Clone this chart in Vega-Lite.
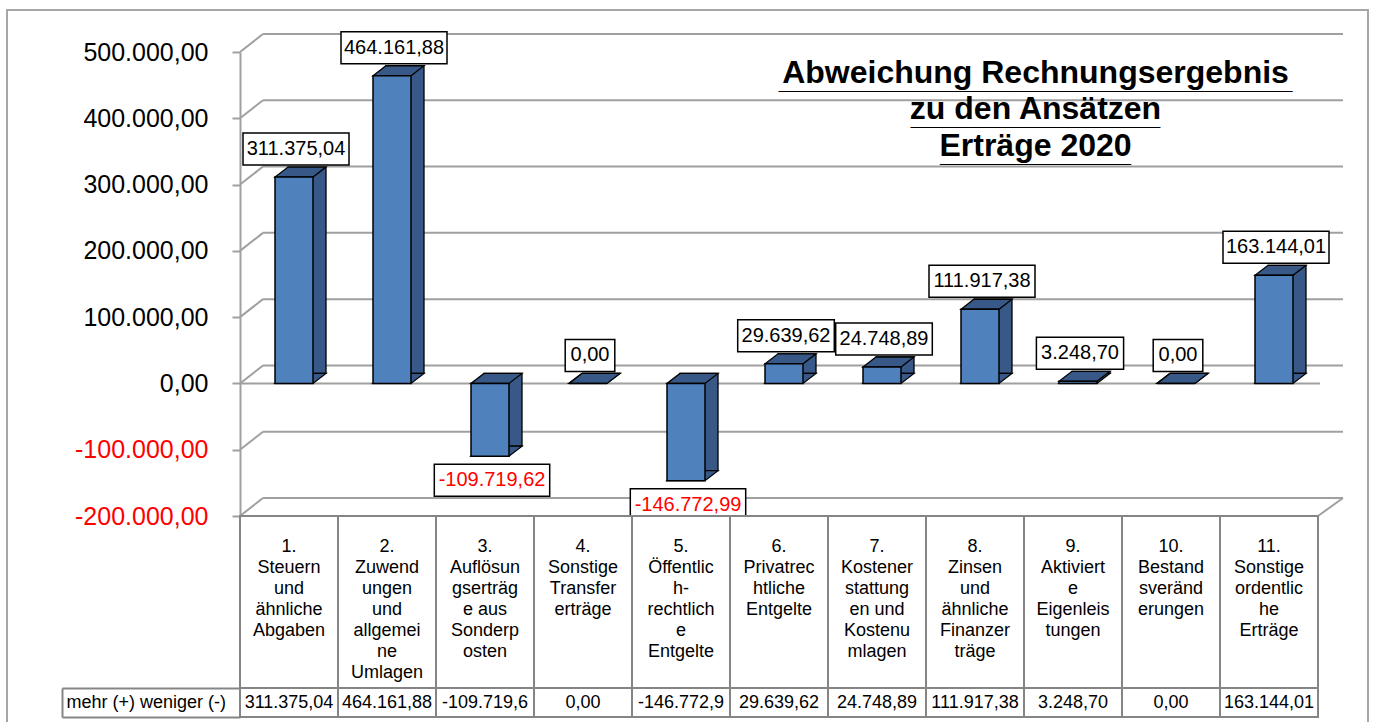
{
  "$schema": "https://vega.github.io/schema/vega-lite/v6.json",
  "width": 1361,
  "height": 716,
  "padding": {"left": 7, "top": 10, "right": 5, "bottom": 0},
  "autosize": {"type": "none"},
  "background": "white",
  "config": {
    "view": {"stroke": "#a6a6a6", "strokeWidth": 2},
    "font": "Liberation Sans",
    "locale": {"number": {"decimal": ",", "thousands": ".", "grouping": [3], "currency": ["", " €"], "minus": "-"}}
  },
  "title": {
    "text": ["Abweichung Rechnungsergebnis", "zu den Ansätzen", "Erträge 2020"],
    "subtitle": ["___________________________________", "_________________", "_____________"],
    "font": "Liberation Sans",
    "fontSize": 32,
    "fontWeight": "bold",
    "color": "black",
    "subtitleFont": "Liberation Sans",
    "subtitleFontSize": 26.4,
    "subtitleFontWeight": "bold",
    "subtitleColor": "black",
    "subtitleLineHeight": 36.5,
    "subtitlePadding": -95,
    "anchor": "middle",
    "frame": "group",
    "orient": "top",
    "baseline": "top",
    "offset": 0,
    "dx": 348,
    "dy": 167,
    "lineHeight": 36.5
  },
  "datasets": {
    "werte": [
      {"nr": "1.", "label": "1.|Steuern|und|ähnliche|Abgaben", "value": 311375.04},
      {"nr": "2.", "label": "2.|Zuwend|ungen|und|allgemei|ne|Umlagen", "value": 464161.88},
      {"nr": "3.", "label": "3.|Auflösun|gserträg|e aus|Sonderp|osten", "value": -109719.62},
      {"nr": "4.", "label": "4.|Sonstige|Transfer|erträge", "value": 0},
      {"nr": "5.", "label": "5.|Öffentlic|h-|rechtlich|e|Entgelte", "value": -146772.99},
      {"nr": "6.", "label": "6.|Privatrec|htliche|Entgelte", "value": 29639.62},
      {"nr": "7.", "label": "7.|Kostener|stattung|en und|Kostenu|mlagen", "value": 24748.89},
      {"nr": "8.", "label": "8.|Zinsen|und|ähnliche|Finanzer|träge", "value": 111917.38},
      {"nr": "9.", "label": "9.|Aktiviert|e|Eigenleis|tungen", "value": 3248.70},
      {"nr": "10.", "label": "10.|Bestand|sveränd|erungen", "value": 0},
      {"nr": "11.", "label": "11.|Sonstige|ordentlic|he|Erträge", "value": 163144.01}
    ],
    "gitter": [
      {"t": -200000}, {"t": -100000}, {"t": 0}, {"t": 100000},
      {"t": 200000}, {"t": 300000}, {"t": 400000}, {"t": 500000}
    ]
  },
  "layer": [
    {
      "layer": [
        {
          "data": {"name": "gitter"},
          "mark": {"type": "rule", "color": "#a0a0a0", "strokeWidth": 2, "xOffset": -26, "x2Offset": 74, "yOffset": -18},
          "encoding": {
            "x": {"datum": "1.", "type": "nominal", "scale": {"domain": ["1.", "2.", "3.", "4.", "5.", "6.", "7.", "8.", "9.", "10.", "11."], "range": [233, 1311], "paddingInner": 0, "paddingOuter": 0}, "axis": null},
            "x2": {"datum": "11."},
            "y": {"field": "t", "type": "quantitative",
              "scale": {"domain": [-200000, 500000], "range": [506, 42], "nice": false, "zero": false},
              "axis": {
                "orient": "left", "offset": -233, "title": null, "grid": false,
                "values": [-200000, -100000, 0, 100000, 200000, 300000, 400000, 500000],
                "format": ",.2f", "labelFont": "Liberation Sans", "labelFontSize": 25,
                "labelColor": {"condition": {"test": "datum.value < 0", "value": "#ff0000"}, "value": "black"},
                "labelPadding": 24, "labelFlush": false, "labelOverlap": false,
                "tickSize": 8, "tickColor": "#a0a0a0", "tickWidth": 2,
                "domainColor": "#a0a0a0", "domainWidth": 2
              }
            }
          }
        },
        {
          "data": {"name": "gitter"},
          "mark": {"type": "rule", "color": "#a0a0a0", "strokeWidth": 2, "xOffset": -49, "x2Offset": -26, "y2Offset": -18},
          "encoding": {
            "x": {"datum": "1.", "type": "nominal"},
            "x2": {"datum": "1."},
            "y": {"field": "t", "type": "quantitative"},
            "y2": {"field": "t"}
          }
        },
        {
          "data": {"values": [{}]},
          "mark": {"type": "rule", "color": "#a0a0a0", "strokeWidth": 2, "xOffset": 49, "x2Offset": 74, "y2Offset": -18},
          "encoding": {
            "x": {"datum": "11.", "type": "nominal"},
            "x2": {"datum": "11."},
            "y": {"datum": -200000, "type": "quantitative"},
            "y2": {"datum": -200000}
          }
        },
        {
          "data": {"values": [{}]},
          "mark": {"type": "rule", "color": "#a0a0a0", "strokeWidth": 2, "xOffset": -49, "x2Offset": 51},
          "encoding": {
            "x": {"datum": "1.", "type": "nominal"},
            "x2": {"datum": "11."},
            "y": {"datum": 0, "type": "quantitative"}
          }
        },
        {
          "data": {"name": "werte"},
          "mark": {"type": "bar", "width": 38, "xOffset": 18, "yOffset": -10, "y2Offset": -10, "fill": "#385987", "stroke": "black", "strokeWidth": 1.3},
          "encoding": {
            "x": {"field": "nr", "type": "nominal"},
            "y": {"field": "value", "type": "quantitative"},
            "y2": {"datum": 0}
          }
        },
        {
          "data": {"name": "werte"},
          "mark": {"type": "point", "filled": true, "opacity": 1, "size": 1600, "xOffset": 5, "yOffset": -5,
            "shape": "M-0.95,0.25L0.95,0.25L1.6,-0.25L-0.3,-0.25Z",
            "fill": "#385987", "stroke": "black", "strokeWidth": 1.3},
          "encoding": {
            "x": {"field": "nr", "type": "nominal"},
            "y": {"datum": 0, "type": "quantitative"}
          }
        },
        {
          "data": {"name": "werte"},
          "mark": {"type": "point", "filled": true, "opacity": 1, "size": 1600, "xOffset": 5, "yOffset": -5,
            "shape": "M-0.95,0.25L0.95,0.25L1.6,-0.25L-0.3,-0.25Z",
            "fill": "#385987", "stroke": "black", "strokeWidth": 1.3},
          "encoding": {
            "x": {"field": "nr", "type": "nominal"},
            "y": {"field": "value", "type": "quantitative"}
          }
        },
        {
          "data": {"name": "werte"},
          "mark": {"type": "bar", "width": 38, "xOffset": 5, "fill": "#4f81bd", "stroke": "black", "strokeWidth": 1.5},
          "encoding": {
            "x": {"field": "nr", "type": "nominal"},
            "y": {"field": "value", "type": "quantitative"},
            "y2": {"datum": 0}
          }
        },
        {
          "data": {"name": "werte"},
          "transform": [{"filter": "datum.value >= 0"}],
          "mark": {"type": "bar", "xOffset": 7, "yOffset": -44, "y2Offset": -12, "fill": "white", "stroke": "black", "strokeWidth": 1.5,
            "width": {"expr": "length(format(datum.value, ',.2f')) * 9.4 + 12"}},
          "encoding": {
            "x": {"field": "nr", "type": "nominal"},
            "y": {"field": "value", "type": "quantitative"},
            "y2": {"field": "value"}
          }
        },
        {
          "data": {"name": "werte"},
          "transform": [{"filter": "datum.value < 0"}],
          "mark": {"type": "bar", "xOffset": 7, "yOffset": 8, "y2Offset": 40, "fill": "white", "stroke": "black", "strokeWidth": 1.5,
            "width": {"expr": "length(format(datum.value, ',.2f')) * 9.4 + 12"}},
          "encoding": {
            "x": {"field": "nr", "type": "nominal"},
            "y": {"field": "value", "type": "quantitative"},
            "y2": {"field": "value"}
          }
        },
        {
          "data": {"name": "werte"},
          "transform": [{"filter": "datum.value >= 0"}],
          "mark": {"type": "text", "xOffset": 7, "yOffset": -28, "fontSize": 20, "baseline": "middle", "align": "center", "color": "black"},
          "encoding": {
            "x": {"field": "nr", "type": "nominal"},
            "y": {"field": "value", "type": "quantitative"},
            "text": {"field": "value", "type": "quantitative", "format": ",.2f"}
          }
        },
        {
          "data": {"name": "werte"},
          "transform": [{"filter": "datum.value < 0"}],
          "mark": {"type": "text", "xOffset": 7, "yOffset": 24, "fontSize": 20, "baseline": "middle", "align": "center", "color": "#ff0000"},
          "encoding": {
            "x": {"field": "nr", "type": "nominal"},
            "y": {"field": "value", "type": "quantitative"},
            "text": {"field": "value", "type": "quantitative", "format": ",.2f"}
          }
        }
      ]
    },
    {
      "data": {"name": "werte"},
      "layer": [
        {
          "mark": {"type": "rect", "fill": "white", "stroke": "#858585", "strokeWidth": 2},
          "encoding": {
            "x": {"field": "nr", "type": "nominal"},
            "y": {"datum": "kopf", "type": "nominal", "scale": {"domain": ["kopf"], "range": [506, 678], "paddingInner": 0, "paddingOuter": 0}, "axis": null}
          }
        },
        {
          "mark": {"type": "text", "fontSize": 18, "lineBreak": "|", "lineHeight": 21, "baseline": "top", "align": "center", "yOffset": -64, "color": "black"},
          "encoding": {
            "x": {"field": "nr", "type": "nominal"},
            "y": {"datum": "kopf", "type": "nominal"},
            "text": {"field": "label", "type": "nominal"}
          }
        }
      ]
    },
    {
      "data": {"name": "werte"},
      "transform": [{"calculate": "substring(format(datum.value, ',.2f'), 0, 10)", "as": "tabelle"}],
      "layer": [
        {
          "mark": {"type": "rect", "fill": "white", "stroke": "#858585", "strokeWidth": 2},
          "encoding": {
            "x": {"field": "nr", "type": "nominal"},
            "y": {"datum": "mehr (+) weniger (-)", "type": "nominal",
              "scale": {"domain": ["mehr (+) weniger (-)"], "range": [678, 707], "paddingInner": 0, "paddingOuter": 0},
              "axis": {
                "orient": "left", "offset": -55, "title": null, "grid": false,
                "tickBand": "extent", "tickSize": -178, "tickColor": "#858585", "tickWidth": 2,
                "domainColor": "#858585", "domainWidth": 2,
                "labelAlign": "left", "labelPadding": 174, "labelBaseline": "middle",
                "labelFont": "Liberation Sans", "labelFontSize": 18, "labelColor": "black"
              }
            }
          }
        },
        {
          "mark": {"type": "text", "fontSize": 18, "baseline": "middle", "align": "center", "color": "black"},
          "encoding": {
            "x": {"field": "nr", "type": "nominal"},
            "y": {"datum": "mehr (+) weniger (-)", "type": "nominal"},
            "text": {"field": "tabelle", "type": "nominal"}
          }
        }
      ]
    }
  ],
  "resolve": {"scale": {"y": "independent"}, "axis": {"y": "independent"}}
}
